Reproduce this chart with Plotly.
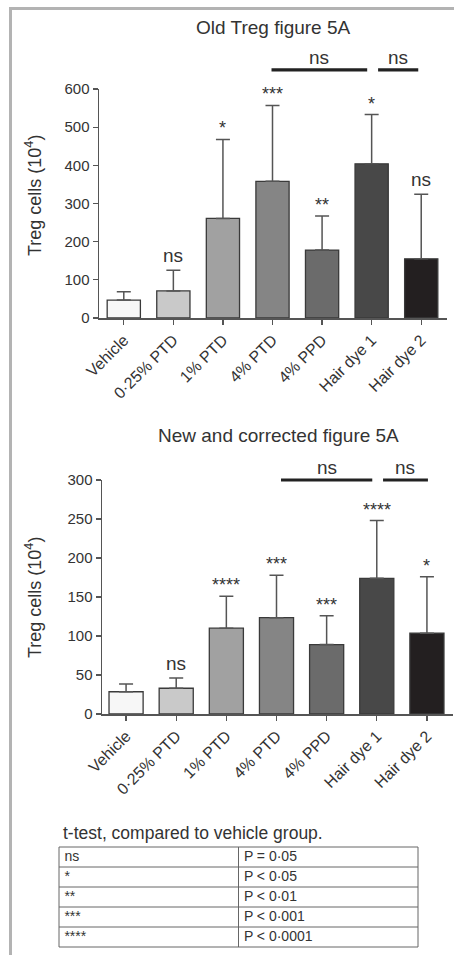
import plotly.graph_objects as go

# ---------------- data ----------------
groups = ["Vehicle", "0·25% PTD", "1% PTD", "4% PTD", "4% PPD", "Hair dye 1", "Hair dye 2"]

old_mean = [47, 71, 261, 358, 178, 404, 155]
old_upper = [69, 125, 468, 557, 267, 533, 324]
old_sig = ["", "ns", "*", "***", "**", "*", "ns"]

new_mean = [28.5, 33, 110, 123.5, 89, 174, 103.5]
new_upper = [38.5, 46, 151, 178, 126, 248, 176]
new_sig = ["", "ns", "****", "***", "***", "****", "*"]

old_ticks = [0, 100, 200, 300, 400, 500, 600]
new_ticks = [0, 50, 100, 150, 200, 250, 300]

bar_colors = ["#f7f7f7", "#c9c9c9", "#a1a1a1", "#858585", "#6b6b6b", "#484848", "#231f20"]

legend_symbols = ["ns", "*", "**", "***", "****"]
legend_meaning = ["P = 0·05", "P < 0·05", "P < 0·01", "P < 0·001", "P < 0·0001"]

# ---------------- layout constants ----------------
W, H = 454, 955
FONT = "Liberation Sans, Arial, sans-serif"
TXT = "#333333"


def px_x(p):
    return p / W


def px_y(p):
    return (H - p) / H


top_dom_x = [px_x(99), px_x(447)]
top_dom_y = [px_y(318), px_y(89)]
bot_dom_x = [px_x(102), px_x(453)]
bot_dom_y = [px_y(714), px_y(480)]

top_yrange = [0, 600]
bot_yrange = [0, 300]

# bracket (start, end) in category units, height in data units
top_brackets = [((2.98, 4.91), 650, "ns"), ((5.13, 5.94), 650, "ns")]
bot_brackets = [((3.09, 4.91), 300, "ns"), ((5.125, 6.02), 300, "ns")]

fig = go.Figure()


def add_panel(mean, upper, xa, ya, width):
    fig.add_trace(go.Bar(
        x=list(range(len(groups))), y=mean,
        marker=dict(color=bar_colors, line=dict(color="#3a3a3a", width=1.3)),
        width=width,
        error_y=dict(type="data", symmetric=False,
                     array=[u - m for u, m in zip(upper, mean)],
                     arrayminus=[0] * len(mean),
                     color="#555555", thickness=1.5, width=7),
        xaxis=xa, yaxis=ya, showlegend=False, hoverinfo="skip",
    ))


add_panel(old_mean, old_upper, "x", "y", 0.67)
add_panel(new_mean, new_upper, "x2", "y2", 0.68)

axis_base = dict(showline=True, linecolor="#555555", linewidth=1.5,
                 ticks="outside", ticklen=5, tickwidth=1.3, tickcolor="#555555",
                 showgrid=False, zeroline=False, automargin=False, fixedrange=True)

xfont = dict(family=FONT, size=16, color=TXT)
yfont = dict(family=FONT, size=15, color=TXT)

# table axes: columns 0..2, rows 0..5 (20 px each)
tab_xrange = [-0.02, 2.02]
tab_yrange = [-0.1, 5.1]
tab_dom_x = [px_x(59 - 0.02 * 179.5), px_x(418 + 0.02 * 179.5)]
tab_dom_y = [px_y(947 + 0.1 * 20), px_y(847 - 0.1 * 20)]
hidden = dict(visible=False, showticklabels=False, showgrid=False, zeroline=False,
              automargin=False, fixedrange=True)

fig.update_layout(
    template="none",
    width=W, height=H, autosize=False,
    margin=dict(l=0, r=0, t=0, b=0, pad=0),
    paper_bgcolor="white", plot_bgcolor="white",
    font=dict(family=FONT, color=TXT),
    xaxis=dict(domain=top_dom_x, range=[-0.5, 6.52], anchor="y",
               tickmode="array", tickvals=list(range(len(groups))), ticktext=groups,
               tickangle=-45, tickfont=xfont, **axis_base),
    yaxis=dict(domain=top_dom_y, range=top_yrange, anchor="x",
               tickmode="array", tickvals=old_ticks, tickfont=yfont, **axis_base),
    xaxis2=dict(domain=bot_dom_x, range=[-0.48, 6.52], anchor="y2",
                tickmode="array", tickvals=list(range(len(groups))), ticktext=groups,
                tickangle=-45, tickfont=xfont, **axis_base),
    yaxis2=dict(domain=bot_dom_y, range=bot_yrange, anchor="x2",
                tickmode="array", tickvals=new_ticks, tickfont=yfont, **axis_base),
    xaxis3=dict(domain=tab_dom_x, range=tab_xrange, anchor="y3", **hidden),
    yaxis3=dict(domain=tab_dom_y, range=tab_yrange, anchor="x3", **hidden),
)

annotations = []
shapes = []


def data_to_paper(v, dom, rng):
    return dom[0] + (v - rng[0]) / (rng[1] - rng[0]) * (dom[1] - dom[0])


def sig_labels(upper, sig, xa, ya):
    for i, (u, s) in enumerate(zip(upper, sig)):
        if not s:
            continue
        is_ns = s == "ns"
        annotations.append(dict(
            x=i, y=u, xref=xa, yref=ya, text=s, showarrow=False,
            xanchor="center", yanchor="bottom", yshift=2 if is_ns else -1,
            font=dict(family=FONT, size=19 if is_ns else 18, color=TXT)))


sig_labels(old_upper, old_sig, "x", "y")
sig_labels(new_upper, new_sig, "x2", "y2")


def brackets(blist, xa, dom, rng):
    for (x0, x1), h, lab in blist:
        yp = data_to_paper(h, dom, rng)
        shapes.append(dict(type="line", xref=xa, yref="paper", x0=x0, x1=x1, y0=yp, y1=yp,
                           line=dict(color="#222222", width=3.2)))
        annotations.append(dict(x=(x0 + x1) / 2, y=yp, xref=xa, yref="paper", text=lab,
                                showarrow=False, xanchor="center", yanchor="bottom", yshift=0,
                                font=dict(family=FONT, size=19, color=TXT)))


brackets(top_brackets, "x", top_dom_y, top_yrange)
brackets(bot_brackets, "x2", bot_dom_y, bot_yrange)

# titles
annotations.append(dict(x=px_x(273), y=px_y(28), xref="paper", yref="paper",
                        text="Old Treg figure 5A", showarrow=False, xanchor="center",
                        yanchor="middle", font=dict(family=FONT, size=19, color=TXT)))
annotations.append(dict(x=px_x(278), y=px_y(436), xref="paper", yref="paper",
                        text="New and corrected figure 5A", showarrow=False, xanchor="center",
                        yanchor="middle", font=dict(family=FONT, size=19, color=TXT)))
for yc in (196, 598):
    annotations.append(dict(x=px_x(33), y=px_y(yc), xref="paper", yref="paper",
                            text="Treg cells (10<sup>4</sup>)", showarrow=False, textangle=-90,
                            xanchor="center", yanchor="middle",
                            font=dict(family=FONT, size=18, color=TXT)))

annotations.append(dict(x=px_x(61), y=px_y(833), xref="paper", yref="paper",
                        text="t-test, compared to vehicle group.", showarrow=False,
                        xanchor="left", yanchor="middle",
                        font=dict(family=FONT, size=17.5, color=TXT)))

# frame lines
shapes.append(dict(type="line", xref="paper", yref="paper", x0=px_x(10), x1=1.0,
                   y0=px_y(8.5), y1=px_y(8.5), line=dict(color="#b3b3b3", width=3)))
shapes.append(dict(type="line", xref="paper", yref="paper", x0=px_x(10.5), x1=px_x(10.5),
                   y0=px_y(7), y1=0, line=dict(color="#b3b3b3", width=3)))

# table grid (in table-axis units)
n_rows = len(legend_symbols)
grid_style = dict(color="#666666", width=1)
for r in range(n_rows + 1):
    shapes.append(dict(type="line", xref="x3", yref="y3", x0=0, x1=2, y0=r, y1=r,
                       line=grid_style))
for c in range(3):
    shapes.append(dict(type="line", xref="x3", yref="y3", x0=c, x1=c, y0=0, y1=n_rows,
                       line=grid_style))

tab_x = []
tab_y = []
tab_t = []
for i, (s, m) in enumerate(zip(legend_symbols, legend_meaning)):
    rc = n_rows - i - 0.5
    tab_x += [0.03, 1.03]
    tab_y += [rc, rc]
    tab_t += [s, m]

fig.add_trace(go.Scatter(
    x=tab_x, y=tab_y, text=tab_t, mode="text", textposition="middle right",
    textfont=dict(family=FONT, size=14, color=TXT),
    xaxis="x3", yaxis="y3", showlegend=False, hoverinfo="skip", cliponaxis=False,
))

fig.update_layout(annotations=annotations, shapes=shapes)
fig.write_html(
    "out.html",
    config={"displayModeBar": False, "staticPlot": True},
    post_script="document.body.style.margin='0';document.body.style.overflow='hidden';",
)
